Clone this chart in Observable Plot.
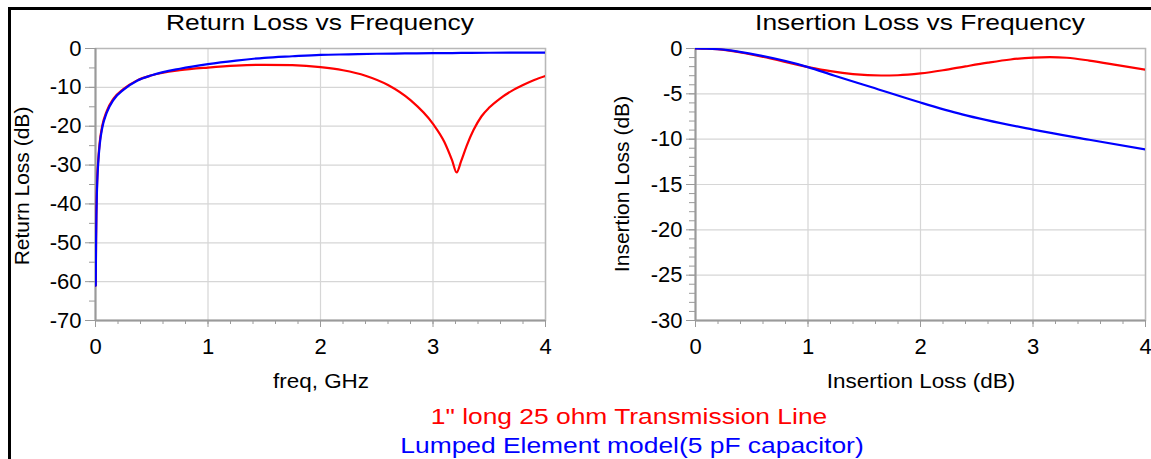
<!DOCTYPE html>
<html><head><meta charset="utf-8">
<script src="https://cdn.jsdelivr.net/npm/d3@7"></script>
<script src="https://cdn.jsdelivr.net/npm/@observablehq/plot@0.6"></script>
<style>
body{margin:0;background:#fff;}
#wrap{position:relative;width:1151px;height:459px;overflow:hidden;background:#fff;}
#wrap svg{position:absolute;top:0;}
#frame{position:absolute;left:8px;top:7px;right:-10px;bottom:-10px;border-top:3px solid #000;border-left:3px solid #000;}
</style></head><body><div id="wrap"><div id="frame"></div></div>
<script>
// ---- Data ----
const titles = ["Return Loss vs Frequency", "Insertion Loss vs Frequency"];
const yLabels = ["Return Loss (dB)", "Insertion Loss (dB)"];
const xLabels = ["freq, GHz", "Insertion Loss (dB)"];
const legendTexts = ["1\" long 25 ohm Transmission Line", "Lumped Element model(5 pF capacitor)"];
const seriesColors = ["#ff0000", "#0000ff"];

const xTicks = [0, 1, 2, 3, 4];
const rlTicks = [0, -10, -20, -30, -40, -50, -60, -70];
const ilTicks = [0, -5, -10, -15, -20, -25, -30];

// Return loss, lumped element (blue)
const rlBlueFreq = [0.002, 0.005, 0.008, 0.012, 0.016, 0.024, 0.038, 0.06, 0.1, 0.16, 0.25, 0.37, 0.5, 0.75, 1.0, 1.25, 1.5, 1.75, 2.0, 2.25, 2.5, 2.75, 3.0, 3.25, 3.5, 3.75, 4.0];
const rlBlueDb   = [-61, -50, -43, -37.5, -34, -29.5, -24.6, -20.4, -16.5, -13.2, -10.6, -8.3, -6.9, -5.2, -4.0, -3.1, -2.4, -2.0, -1.65, -1.5, -1.35, -1.28, -1.2, -1.15, -1.1, -1.07, -1.05];
// Return loss, transmission line (red)
const rlRedFreq = [0.002, 0.005, 0.008, 0.012, 0.016, 0.024, 0.038, 0.06, 0.1, 0.16, 0.25, 0.37, 0.5, 0.75, 1.0, 1.25, 1.5, 1.75, 2.0, 2.2, 2.4, 2.6, 2.8, 3.0, 3.1, 3.17, 3.21, 3.25, 3.3, 3.36, 3.43, 3.5, 3.59, 3.7, 3.8, 3.9, 4.0];
const rlRedDb   = [-61, -49, -42, -36.5, -33, -28.8, -24.0, -19.9, -16.1, -12.9, -10.4, -8.2, -6.9, -5.6, -4.9, -4.4, -4.2, -4.3, -4.8, -5.6, -7.0, -9.4, -13.3, -19.4, -24.0, -28.8, -31.9, -29.0, -25.0, -21.0, -17.5, -15.2, -13.0, -10.9, -9.4, -8.1, -7.06];
// Insertion loss, lumped element (blue)
const ilBlueFreq = [0, 0.1, 0.27, 0.59, 1.0, 1.23, 1.56, 2.0, 2.37, 3.0, 3.5, 4.0];
const ilBlueDb   = [0, -0.03, -0.15, -0.82, -2.05, -2.98, -4.25, -5.96, -7.27, -8.94, -10.06, -11.14];
// Insertion loss, transmission line (red)
const ilRedFreq = [0, 0.1, 0.27, 0.59, 1.0, 1.2, 1.4, 1.65, 1.8, 2.0, 2.2, 2.4, 2.6, 2.8, 3.0, 3.15, 3.3, 3.5, 3.75, 4.0];
const ilRedDb   = [0, -0.03, -0.17, -0.9, -2.05, -2.5, -2.82, -2.98, -2.95, -2.75, -2.4, -1.97, -1.56, -1.21, -1.0, -0.95, -1.02, -1.33, -1.83, -2.35];

// ---- helpers ----
const pts = (f, v) => f.map((d, i) => ({f: d, v: v[i]}));
const font = "'Liberation Sans', Arial, sans-serif";
const gridC = "#d6d6d6", axisC = "#9a9a9a", frameC = "#b8b8b8";

function panel({width, left, marginLeft, marginRight, yDomain, yTicks, yMinor, ySize, series}) {
  const xMinor = d3.range(0, 4.0001, 0.2);
  const p = Plot.plot({
    width, height: 459,
    marginLeft, marginRight, marginTop: 48, marginBottom: 139,
    style: {fontFamily: font, fontSize: "21px", color: "#000", background: "transparent", overflow: "visible"},
    x: {domain: [0, 4], label: null},
    y: {domain: yDomain, label: null},
    marks: [
      Plot.gridX(xTicks, {stroke: gridC, strokeOpacity: 1, strokeWidth: 1.2}),
      Plot.gridY(yTicks, {stroke: gridC, strokeOpacity: 1, strokeWidth: 1.2}),
      Plot.frame({stroke: frameC, strokeWidth: 1.5}),
      Plot.axisX(xMinor, {anchor: "bottom", tickSize: 4, text: null, stroke: axisC, label: null}),
      Plot.axisX(xTicks, {anchor: "bottom", tickSize: 7, tickPadding: 11, fontSize: 22, stroke: axisC, fill: "#000", tickFormat: d => String(d), label: null}),
      Plot.axisY(yMinor, {anchor: "left", tickSize: 6, text: null, stroke: axisC, label: null}),
      Plot.axisY(yTicks, {anchor: "left", tickSize: ySize, tickPadding: 4, fontSize: 22, stroke: axisC, fill: "#000", tickFormat: d => String(d), label: null}),
      Plot.ruleX([0], {stroke: axisC, strokeWidth: 2}),
      Plot.ruleY([yDomain[0]], {stroke: axisC, strokeWidth: 2}),
      ...series.map((s, i) => Plot.line(s, {x: "f", y: "v", stroke: seriesColors[i], strokeWidth: 2.2, curve: "monotone-x", clip: true}))
    ]
  });
  p.style.left = left + "px";
  return p;
}

const wrap = document.getElementById("wrap");
wrap.appendChild(panel({
  width: 580, left: 0, marginLeft: 95, marginRight: 35,
  yDomain: [-70, 0], yTicks: rlTicks, yMinor: d3.range(-70, 0.001, 5), ySize: 10,
  series: [pts(rlRedFreq, rlRedDb), pts(rlBlueFreq, rlBlueDb)]
}));
wrap.appendChild(panel({
  width: 571, left: 580, marginLeft: 115, marginRight: 6,
  yDomain: [-30, 0], yTicks: ilTicks, yMinor: d3.range(-30, 0.001, 1), ySize: 9,
  series: [pts(ilRedFreq, ilRedDb), pts(ilBlueFreq, ilBlueDb)]
}));

// ---- text overlay ----
const svg = d3.select(wrap).append("svg")
  .attr("width", 1151).attr("height", 459)
  .style("left", "0px").style("pointer-events", "none")
  .attr("font-family", font);
function txt(s, x, y, size, sx, fill, rot) {
  const t = svg.append("text").text(s).attr("text-anchor", "middle")
    .attr("font-size", size).attr("fill", fill || "#000");
  t.attr("transform", `translate(${x},${y})` + (rot ? ` rotate(${rot})` : "") + ` scale(${sx},1)`);
}
txt(titles[0], 320, 30, 22, 1.2);
txt(titles[1], 920, 30, 22, 1.2);
txt(yLabels[0], 29, 186, 21, 1.0, "#000", -90);
txt(yLabels[1], 629, 184, 21, 1.0, "#000", -90);
txt(xLabels[0], 321, 388, 21, 1.07);
txt(xLabels[1], 921, 388, 21, 1.07);
txt(legendTexts[0], 629, 424, 22, 1.2, seriesColors[0]);
txt(legendTexts[1], 632, 453, 22, 1.2, seriesColors[1]);
</script></body></html>
